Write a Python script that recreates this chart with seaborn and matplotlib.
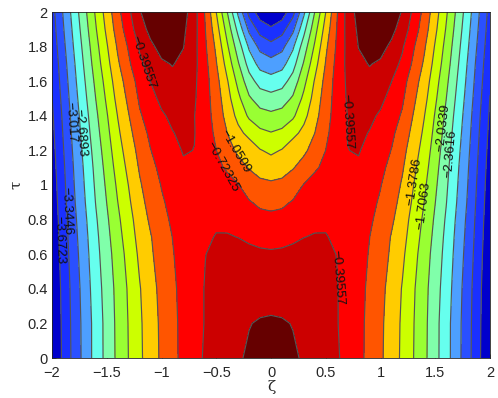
#!/usr/bin/env python3
import numpy as np
import matplotlib
matplotlib.use("Agg")
import matplotlib.pyplot as plt
import seaborn as sns

LEVELS = [-3.6723, -3.3446, -3.017, -2.6893, -2.3616, -2.0339, -1.7063,
          -1.3786, -1.0509, -0.72325, -0.39557, -0.067888]
BAND_EDGES = [-4.2] + LEVELS + [0.6]
BAND_COLORS = ["#0000cc", "#1a30ff", "#2a50ff", "#4d9fff", "#66ffee", "#80ffaa",
               "#99ff33", "#ccff00", "#ffcc00", "#ff5500", "#ff0000", "#cc0000", "#660000"]

# surface, right half only (the picture is mirror symmetric)
ZETA = [0, .1, .2, .3, .4, .5, .6, .7, .8, .9, 1.0, 1.1, 1.2, 1.4, 1.6, 1.8, 2.0]
TAU = [0, .2, .4, .6, .7, .8, .9, 1.0, 1.1, 1.2, 1.3, 1.4, 1.5, 1.6, 1.7, 1.8, 1.9, 2.0]
Z_HALF = [
    [0.00, -.01, -.04, -.09, -.16, -.25, -.36, -.49, -.64, -.81, -1.00, -1.21, -1.44, -1.96, -2.56, -3.24, -4.00],
    [-.04, -.05, -.075, -.13, -.20, -.29, -.38, -.50, -.64, -.80, -.99, -1.20, -1.43, -1.95, -2.56, -3.23, -3.99],
    [-.16, -.16, -.17, -.19, -.22, -.30, -.38, -.50, -.63, -.78, -.96, -1.17, -1.40, -1.93, -2.52, -3.21, -3.97],
    [-.36, -.35, -.33, -.31, -.31, -.34, -.40, -.50, -.62, -.74, -.90, -1.10, -1.32, -1.87, -2.47, -3.16, -3.94],
    [-.49, -.475, -.44, -.40, -.38, -.385, -.43, -.51, -.61, -.72, -.87, -1.07, -1.27, -1.82, -2.44, -3.13, -3.92],
    [-.64, -.625, -.57, -.50, -.45, -.43, -.46, -.52, -.59, -.68, -.81, -1.00, -1.22, -1.77, -2.40, -3.10, -3.90],
    [-.81, -.78, -.70, -.60, -.53, -.50, -.48, -.49, -.55, -.64, -.76, -.94, -1.15, -1.71, -2.35, -3.06, -3.875],
    [-1.00, -.97, -.87, -.71, -.59, -.58, -.49, -.47, -.52, -.60, -.71, -.875, -1.09, -1.65, -2.31, -3.03, -3.85],
    [-1.21, -1.175, -1.07, -.93, -.77, -.64, -.53, -.43, -.44, -.55, -.655, -.80, -1.02, -1.58, -2.27, -3.00, -3.82],
    [-1.44, -1.36, -1.19, -1.11, -.93, -.72, -.56, -.40, -.375, -.49, -.60, -.73, -.95, -1.51, -2.22, -2.96, -3.79],
    [-1.69, -1.63, -1.47, -1.29, -1.05, -.78, -.58, -.385, -.33, -.41, -.52, -.66, -.86, -1.44, -2.16, -2.92, -3.755],
    [-1.96, -1.91, -1.76, -1.47, -1.17, -.83, -.60, -.39, -.29, -.33, -.44, -.59, -.76, -1.37, -2.10, -2.88, -3.72],
    [-2.25, -2.19, -1.99, -1.63, -1.26, -.88, -.60, -.36, -.22, -.22, -.32, -.50, -.68, -1.28, -2.03, -2.83, -3.68],
    [-2.56, -2.49, -2.23, -1.80, -1.35, -.945, -.60, -.34, -.18, -.14, -.22, -.39, -.60, -1.20, -1.96, -2.78, -3.64],
    [-2.89, -2.80, -2.49, -2.00, -1.50, -1.03, -.63, -.31, -.13, -.055, -.11, -.27, -.46, -1.10, -1.88, -2.73, -3.60],
    [-3.24, -3.11, -2.74, -2.20, -1.66, -1.115, -.68, -.30, -.06, .06, .03, -.13, -.36, -1.01, -1.81, -2.67, -3.55],
    [-3.61, -3.47, -3.09, -2.46, -1.83, -1.24, -.72, -.28, -.01, .14, .16, .02, -.21, -.90, -1.73, -2.61, -3.50],
    [-4.00, -3.85, -3.46, -2.76, -2.03, -1.38, -.76, -.27, .06, .24, .30, .17, -.10, -.82, -1.66, -2.55, -3.46],
]

# (level, zeta, tau) of each inline label
LABEL_SPOTS = [
    (-0.39557, -1.16, 1.71), (-0.39557, 0.69, 1.366), (-0.39557, 0.615, 0.468),
    (-0.72325, -0.41, 1.115), (-1.0509, -0.33, 1.19), (-1.3786, 1.33, 1.02),
    (-1.7063, 1.415, 0.88), (-2.0339, 1.595, 1.33), (-2.3616, 1.655, 1.18),
    (-2.6893, -1.76, 1.30), (-3.017, -1.835, 1.365), (-3.3446, -1.88, 0.85),
    (-3.6723, -1.95, 0.68),
]

XTICKS = [-2, -1.5, -1, -0.5, 0, 0.5, 1, 1.5, 2]
YTICKS = [0, 0.2, 0.4, 0.6, 0.8, 1, 1.2, 1.4, 1.6, 1.8, 2]


def main():
    sns.set_theme(style="ticks", rc={"xtick.direction": "in", "ytick.direction": "in"})
    plt.rcParams["font.family"] = ["Liberation Sans", "DejaVu Sans"]

    half = np.array(ZETA)
    zeta = np.concatenate([-half[:0:-1], half])
    z_half = np.array(Z_HALF)
    z = np.hstack([z_half[:, :0:-1], z_half])

    fig = plt.figure(figsize=(4.98, 3.98), dpi=100)
    ax = fig.add_axes([52 / 498, 1 - 358 / 398, 438 / 498, 346 / 398])

    ax.contourf(zeta, TAU, z, levels=BAND_EDGES, colors=sns.color_palette(BAND_COLORS))
    lines = {}
    for level in LEVELS:
        lines[level] = ax.contour(zeta, TAU, z, levels=[level], colors="#555555",
                                  linewidths=0.85, linestyles="solid")

    for level, x, y in LABEL_SPOTS:
        ax.clabel(lines[level], manual=[(x, y)], inline=False, fontsize=9.5,
                  colors="#111111", fmt={level: ("%.5g" % level).replace("-", "\u2212")})

    ax.set_xlim(-2, 2)
    ax.set_ylim(0, 2)
    ax.set_xticks(XTICKS, [("%g" % t).replace("-", "\u2212") for t in XTICKS])
    ax.set_yticks(YTICKS, ["%g" % t for t in YTICKS])
    ax.tick_params(labelsize=10.5, length=3, width=0.5, color="#222222")
    ax.tick_params(axis="x", pad=6)
    ax.tick_params(axis="y", pad=3)
    ax.set_xlabel("\u03b6", fontsize=11, family="DejaVu Serif", labelpad=0)
    ax.set_ylabel("\u03c4", fontsize=11, family="DejaVu Serif", labelpad=3)
    sns.despine(ax=ax, top=False, right=False)
    for s in ax.spines.values():
        s.set_linewidth(0.6)
        s.set_color("#222222")

    fig.savefig("out.png", dpi=100)


if __name__ == "__main__":
    main()
